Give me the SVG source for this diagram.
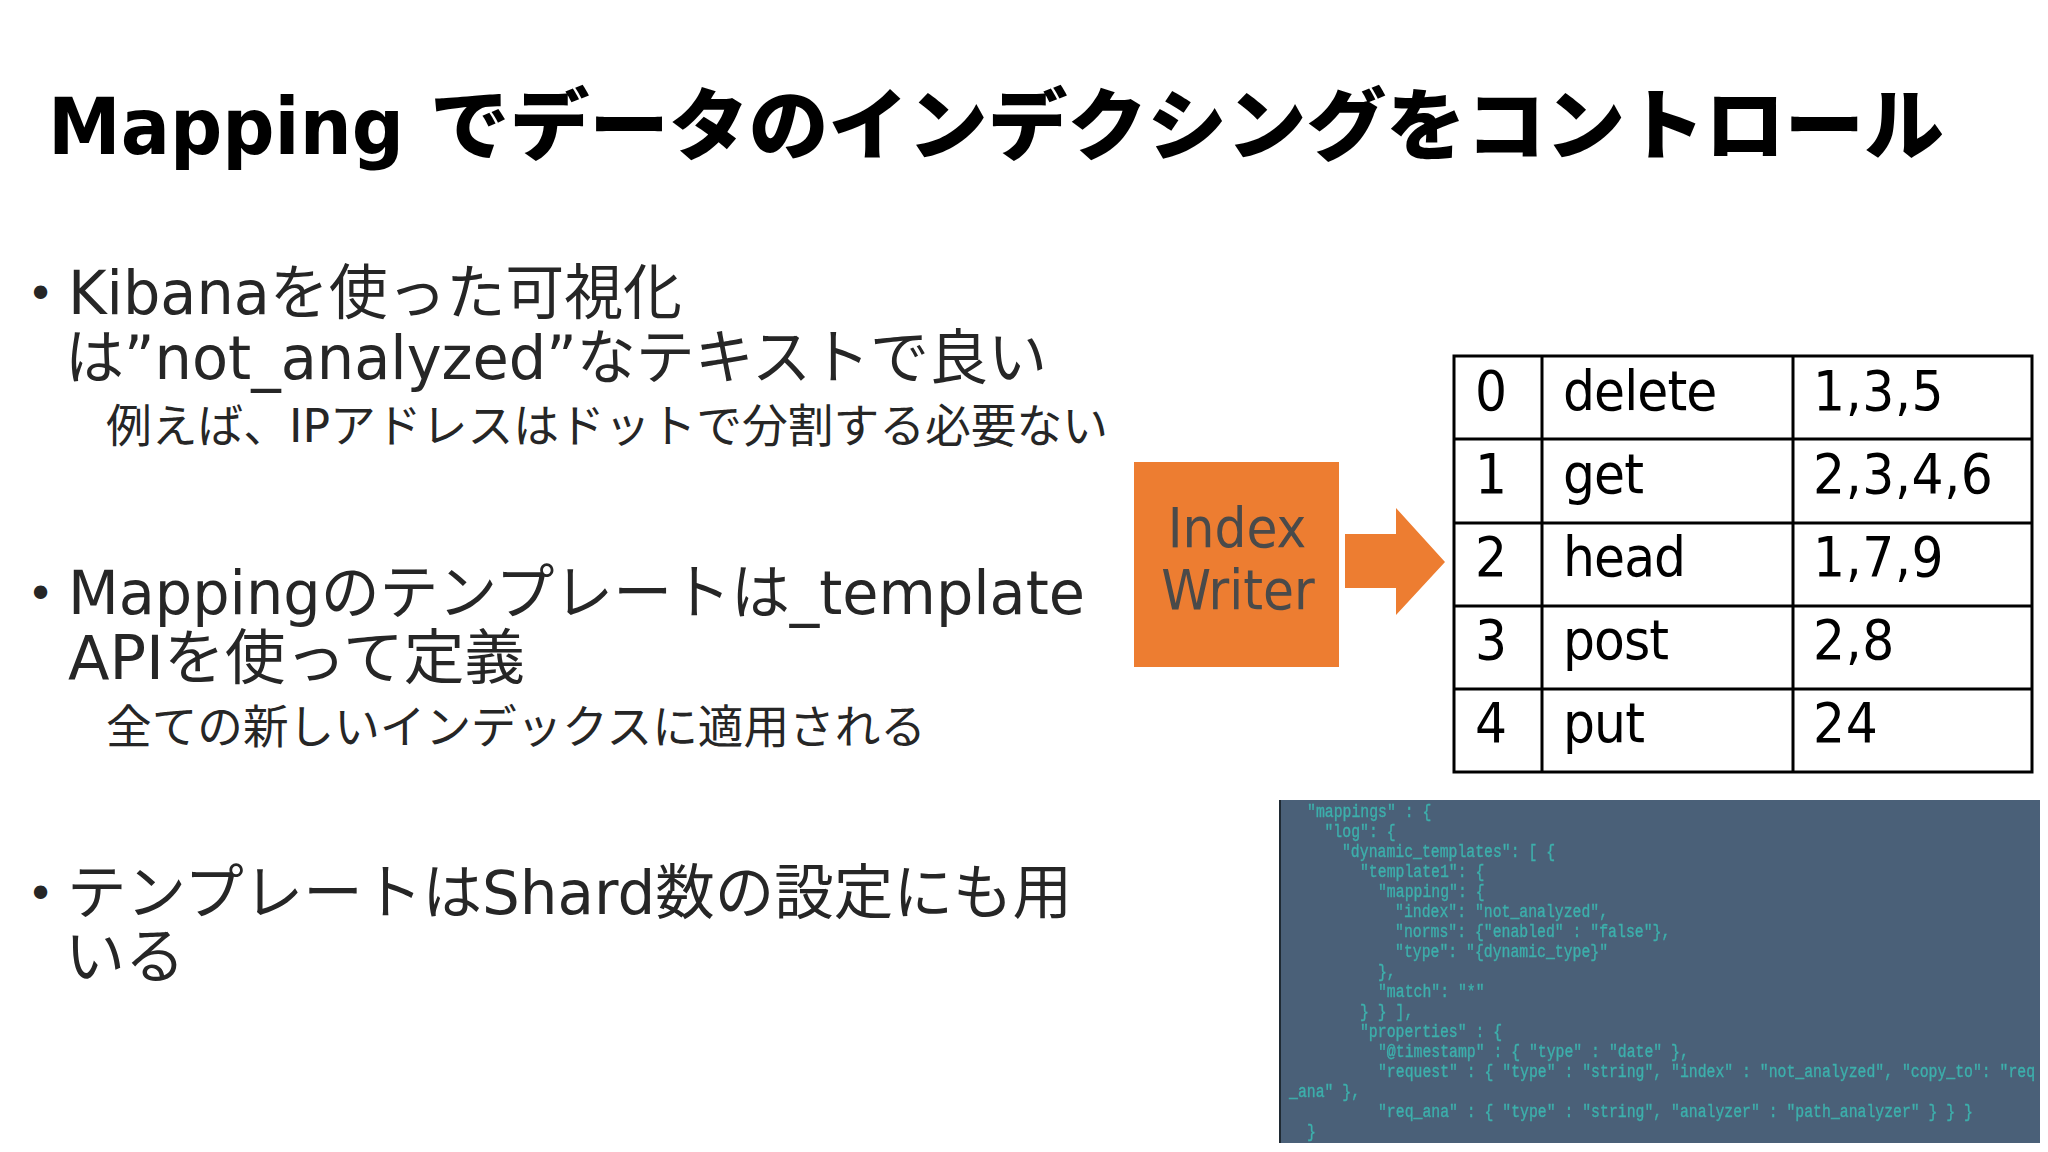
<svg xmlns="http://www.w3.org/2000/svg" width="2048" height="1152" viewBox="0 0 2048 1152">
<style>
text{font-family:"DejaVu Sans","Noto Sans CJK JP",sans-serif;fill:#000}
.t{font-size:78px;font-weight:900}
.b{font-size:60px;fill:#262626}
.s{font-size:46px;fill:#262626}
.p{font-size:46px;fill:#262626}
.d{font-size:56px;font-stretch:condensed;fill:#000}
.m{letter-spacing:-.9px}
.n{letter-spacing:.6px}
.w{font-size:56px;font-stretch:condensed;fill:#4a4a4a;text-anchor:middle}
.c{font-family:"Liberation Mono","DejaVu Sans Mono",monospace;font-size:14.8px;fill:#3cb0ac;stroke:#3cb0ac;stroke-width:.3}
.l{stroke:#000;stroke-width:3;fill:none}
</style>
<defs><filter id="soft"><feGaussianBlur stdDeviation="0.6"/></filter></defs>
<rect width="2048" height="1152" fill="#fff"/>
<text class="t" y="154"><tspan x="48" textLength="356" lengthAdjust="spacingAndGlyphs">Mapping</tspan><tspan x="430" textLength="1514" lengthAdjust="spacingAndGlyphs">でデータのインデクシングをコントロール</tspan></text>
<g id="bullets">
<text class="p" x="27" y="310">•</text>
<text class="b" x="68" y="314" textLength="614" lengthAdjust="spacingAndGlyphs">Kibanaを使った可視化</text>
<text class="b" x="65" y="379" textLength="982" lengthAdjust="spacingAndGlyphs">は”not_analyzed”なテキストで良い</text>
<text class="s" x="106" y="442" textLength="1002" lengthAdjust="spacingAndGlyphs">例えば、IPアドレスはドットで分割する必要ない</text>
<text class="p" x="27" y="610">•</text>
<text class="b" x="68" y="614" textLength="1017" lengthAdjust="spacingAndGlyphs">Mappingのテンプレートは_template</text>
<text class="b" x="68" y="679" textLength="457" lengthAdjust="spacingAndGlyphs">APIを使って定義</text>
<text class="s" x="106" y="743" textLength="820" lengthAdjust="spacingAndGlyphs">全ての新しいインデックスに適用される</text>
<text class="p" x="27" y="910">•</text>
<text class="b" x="67" y="914" textLength="1005" lengthAdjust="spacingAndGlyphs">テンプレートはShard数の設定にも用</text>
<text class="b" x="65" y="978" textLength="120" lengthAdjust="spacingAndGlyphs">いる</text>
</g>
<g id="index-writer">
<rect x="1134" y="462" width="205" height="205" fill="#ed7d31"/>
<text class="w" x="1237" y="547">Index</text>
<text class="w" x="1238" y="609">Writer</text>
</g>
<g id="connectors">
<polygon points="1345,534 1396,534 1396,508 1445,562 1396,615 1396,588 1345,588" fill="#ed7d31"/>
</g>
<g id="table">
<rect class="l" x="1454" y="356" width="578" height="416"/>
<path class="l" d="M1542 356V772M1793 356V772M1454 439H2032M1454 523H2032M1454 606H2032M1454 689H2032"/>
<text class="d" x="1475" y="410">0</text><text class="d m" x="1563" y="410">delete</text><text class="d n" x="1813" y="410">1,3,5</text>
<text class="d" x="1475" y="493">1</text><text class="d m" x="1563" y="493">get</text><text class="d n" x="1813" y="493">2,3,4,6</text>
<text class="d" x="1475" y="576">2</text><text class="d m" x="1563" y="576">head</text><text class="d n" x="1813" y="576">1,7,9</text>
<text class="d" x="1475" y="659">3</text><text class="d m" x="1563" y="659">post</text><text class="d n" x="1813" y="659">2,8</text>
<text class="d" x="1475" y="742">4</text><text class="d m" x="1563" y="742">put</text><text class="d n" x="1813" y="742">24</text>
</g>
<g id="code">
<rect x="1279" y="800" width="761" height="343" fill="#4a6078"/>
<rect x="1279" y="800" width="2" height="343" fill="#1f2a33"/>
<g filter="url(#soft)" transform="scale(1 1.25)">
<text class="c" x="1307" y="653.6">"mappings" : {</text>
<text class="c" x="1324.5" y="669.6">"log": {</text>
<text class="c" x="1342" y="685.6">"dynamic_templates": [ {</text>
<text class="c" x="1360" y="701.6">"template1": {</text>
<text class="c" x="1378" y="717.6">"mapping": {</text>
<text class="c" x="1395" y="733.6">"index": "not_analyzed",</text>
<text class="c" x="1395" y="749.6">"norms": {"enabled" : "false"},</text>
<text class="c" x="1395" y="765.6">"type": "{dynamic_type}"</text>
<text class="c" x="1378" y="781.6">},</text>
<text class="c" x="1378" y="797.6">"match": "*"</text>
<text class="c" x="1360" y="813.6">} } ],</text>
<text class="c" x="1360" y="829.6">"properties" : {</text>
<text class="c" x="1378" y="845.6">"@timestamp" : { "type" : "date" },</text>
<text class="c" x="1378" y="861.6">"request" : { "type" : "string", "index" : "not_analyzed", "copy_to": "req</text>
<text class="c" x="1289" y="877.6">_ana" },</text>
<text class="c" x="1378" y="893.6">"req_ana" : { "type" : "string", "analyzer" : "path_analyzer" } } }</text>
<text class="c" x="1307" y="909.6">}</text>
</g>
</g>
</svg>
